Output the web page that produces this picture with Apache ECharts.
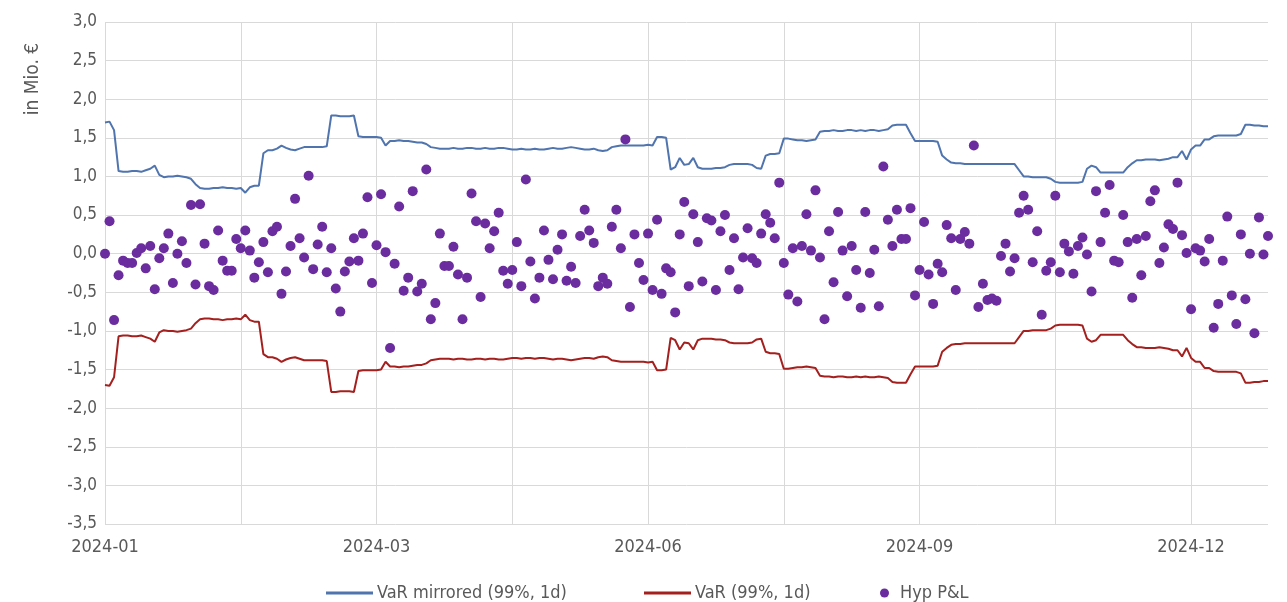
<!DOCTYPE html>
<html><head><meta charset="utf-8">
<script src="https://cdn.jsdelivr.net/npm/echarts@6/dist/echarts.min.js"></script>
<style>html,body{margin:0;padding:0;background:#fff}#c{width:1287px;height:602px}</style>
</head><body><div id="c"></div>
<script>
// VaR (99%, 1d) in Mio. € — one value per business day of 2024
const varValues = [
-1.70,-1.71,-1.60,-1.07,-1.06,-1.06,-1.07,-1.07,-1.06,-1.08,
-1.10,-1.14,-1.02,-0.99,-1.00,-1.00,-1.01,-1.00,-0.99,-0.97,
-0.90,-0.85,-0.84,-0.84,-0.85,-0.85,-0.86,-0.85,-0.85,-0.84,
-0.85,-0.79,-0.86,-0.88,-0.88,-1.30,-1.34,-1.34,-1.36,-1.40,
-1.37,-1.35,-1.34,-1.36,-1.38,-1.38,-1.38,-1.38,-1.38,-1.39,
-1.79,-1.79,-1.78,-1.78,-1.78,-1.79,-1.52,-1.51,-1.51,-1.51,
-1.51,-1.50,-1.40,-1.46,-1.46,-1.47,-1.46,-1.46,-1.45,-1.44,
-1.44,-1.42,-1.38,-1.37,-1.36,-1.36,-1.36,-1.37,-1.36,-1.36,
-1.37,-1.37,-1.36,-1.36,-1.37,-1.36,-1.36,-1.37,-1.37,-1.36,
-1.35,-1.35,-1.36,-1.35,-1.35,-1.36,-1.35,-1.35,-1.36,-1.37,
-1.36,-1.36,-1.37,-1.38,-1.37,-1.36,-1.35,-1.35,-1.36,-1.34,
-1.33,-1.34,-1.38,-1.39,-1.40,-1.40,-1.40,-1.40,-1.40,-1.40,
-1.41,-1.40,-1.51,-1.51,-1.50,-1.09,-1.12,-1.24,-1.15,-1.16,
-1.24,-1.12,-1.10,-1.10,-1.10,-1.11,-1.11,-1.12,-1.15,-1.16,
-1.16,-1.16,-1.16,-1.15,-1.11,-1.10,-1.27,-1.29,-1.29,-1.30,
-1.49,-1.49,-1.48,-1.47,-1.47,-1.46,-1.47,-1.48,-1.58,-1.59,
-1.59,-1.60,-1.59,-1.59,-1.60,-1.60,-1.59,-1.60,-1.59,-1.60,
-1.60,-1.59,-1.60,-1.61,-1.66,-1.67,-1.67,-1.67,-1.56,-1.46,
-1.46,-1.46,-1.46,-1.46,-1.45,-1.27,-1.22,-1.18,-1.17,-1.17,
-1.16,-1.16,-1.16,-1.16,-1.16,-1.16,-1.16,-1.16,-1.16,-1.16,
-1.16,-1.16,-1.08,-1.00,-1.00,-0.99,-0.99,-0.99,-0.99,-0.97,
-0.93,-0.92,-0.92,-0.92,-0.92,-0.92,-0.93,-1.10,-1.14,-1.12,
-1.05,-1.05,-1.05,-1.05,-1.05,-1.05,-1.12,-1.17,-1.21,-1.21,
-1.22,-1.22,-1.22,-1.21,-1.22,-1.23,-1.25,-1.25,-1.33,-1.22,
-1.35,-1.40,-1.40,-1.48,-1.48,-1.52,-1.53,-1.53,-1.53,-1.53,
-1.53,-1.55,-1.67,-1.67,-1.66,-1.66,-1.65,-1.65
];
// VaR mirrored = VaR with the sign flipped
const varMirrored = varValues.map(v => -v);

// Hypothetical P&L in Mio. €
const pnlValues = [
0.00,0.42,-0.86,-0.28,-0.09,-0.12,-0.12,0.01,0.07,-0.19,
0.10,-0.46,-0.06,0.07,0.26,-0.38,0.00,0.16,-0.12,0.63,
-0.40,0.64,0.13,-0.42,-0.47,0.30,-0.09,-0.22,-0.22,0.19,
0.07,0.30,0.04,-0.31,-0.11,0.15,-0.24,0.29,0.35,-0.52,
-0.23,0.10,0.71,0.20,-0.05,1.01,-0.20,0.12,0.35,-0.24,
0.07,-0.45,-0.75,-0.23,-0.10,0.20,-0.09,0.26,0.73,-0.38,
0.11,0.77,0.02,-1.22,-0.13,0.61,-0.48,-0.31,0.81,-0.49,
-0.39,1.09,-0.85,-0.64,0.26,-0.16,-0.16,0.09,-0.27,-0.85,
-0.31,0.78,0.42,-0.56,0.39,0.07,0.29,0.53,-0.22,-0.39,
-0.21,0.15,-0.42,0.96,-0.10,-0.58,-0.31,0.30,-0.08,-0.33,
0.05,0.25,-0.35,-0.17,-0.38,0.23,0.57,0.30,0.14,-0.42,
-0.31,-0.39,0.35,0.57,0.07,1.48,-0.69,0.25,-0.12,-0.34,
0.26,-0.47,0.44,-0.52,-0.19,-0.24,-0.76,0.25,0.67,-0.42,
0.51,0.15,-0.36,0.46,0.43,-0.47,0.29,0.50,-0.21,0.20,
-0.46,-0.05,0.33,-0.06,-0.12,0.26,0.51,0.40,0.20,0.92,
-0.12,-0.53,0.07,-0.62,0.10,0.51,0.04,0.82,-0.05,-0.85,
0.29,-0.37,0.54,0.04,-0.55,0.10,-0.21,-0.70,0.54,-0.25,
0.05,-0.68,1.13,0.44,0.10,0.57,0.19,0.19,0.59,-0.54,
-0.21,0.41,-0.27,-0.65,-0.13,-0.24,0.37,0.20,-0.47,0.19,
0.28,0.13,1.40,-0.69,-0.39,-0.60,-0.58,-0.61,-0.03,0.13,
-0.23,-0.06,0.53,0.75,0.57,-0.11,0.29,-0.79,-0.22,-0.11,
0.75,-0.24,0.13,0.03,-0.26,0.10,0.21,-0.01,-0.49,0.81,
0.15,0.53,0.89,-0.09,-0.11,0.50,0.15,-0.57,0.19,-0.28,
0.23,0.68,0.82,-0.12,0.08,0.38,0.32,0.92,0.24,0.01,
-0.72,0.07,0.04,-0.10,0.19,-0.96,-0.65,-0.09,0.48,-0.54,
-0.91,0.25,-0.59,0.00,-1.03,0.47,-0.01,0.23
];

// Categories: business days of 2024 starting 2024-01-02
const dates = [];
(function(){
  const d = new Date(Date.UTC(2024, 0, 2));
  while (dates.length < pnlValues.length) {
    const wd = d.getUTCDay();
    if (wd !== 0 && wd !== 6) dates.push(d.toISOString().slice(0, 10));
    d.setUTCDate(d.getUTCDate() + 1);
  }
})();

const seriesNames = ['VaR mirrored (99%, 1d)', 'VaR (99%, 1d)', 'Hyp P&L'];
const yAxisTitle = 'in Mio. €';

const FONT = "'DejaVu Sans Condensed', 'Liberation Sans Narrow', 'DejaVu Sans', sans-serif";
const TXT = '#595959';
const GRID = '#d9d9d9';

const legendText = {color: TXT, fontSize: 18, fontFamily: FONT};

const chart = echarts.init(document.getElementById('c'), null, {renderer: 'canvas'});
chart.setOption({
  animation: false,
  backgroundColor: '#fff',
  textStyle: {fontFamily: FONT},
  grid: {left: 105, right: 19, top: 22, bottom: 78, containLabel: false},
  xAxis: {
    type: 'category',
    data: dates,
    boundaryGap: false,
    axisLine: {show: true, lineStyle: {color: GRID, width: 1}},
    axisTick: {show: false},
    axisLabel: {
      interval: 59, color: TXT, fontSize: 18, fontFamily: FONT, margin: 14,
      formatter: v => v.slice(0, 7)
    },
    splitLine: {show: true, interval: 29, lineStyle: {color: GRID, width: 1}}
  },
  yAxis: {
    type: 'value',
    min: -3.5, max: 3.0, interval: 0.5,
    axisLine: {show: false},
    axisTick: {show: false},
    axisLabel: {
      color: TXT, fontSize: 17, fontFamily: FONT, margin: 8,
      formatter: v => v.toFixed(1).replace('.', ',')
    },
    splitLine: {show: true, lineStyle: {color: GRID, width: 1}}
  },
  graphic: [{
    type: 'text',
    x: 33, y: 79,
    rotation: Math.PI / 2,
    style: {
      text: yAxisTitle, fill: TXT, fontSize: 19, fontFamily: FONT,
      align: 'center', verticalAlign: 'middle'
    }
  }],
  legend: [{
    data: [{name: seriesNames[0], icon: 'rect'}],
    left: 321, top: 579,
    itemWidth: 47, itemHeight: 3,
    textStyle: Object.assign({padding: [0, 0, 0, -1]}, legendText)
  }, {
    data: [{name: seriesNames[1], icon: 'rect'}],
    left: 639, top: 579,
    itemWidth: 47, itemHeight: 3,
    textStyle: Object.assign({padding: [0, 0, 0, -1]}, legendText)
  }, {
    data: [{name: seriesNames[2], icon: 'circle'}],
    left: 875, top: 579,
    itemWidth: 9, itemHeight: 9,
    textStyle: Object.assign({padding: [0, 0, 0, 6]}, legendText)
  }],
  series: [{
    name: seriesNames[0],
    type: 'line',
    data: varMirrored,
    symbol: 'none',
    lineStyle: {color: '#4F74AE', width: 2},
    itemStyle: {color: '#4F74AE'},
    z: 2
  }, {
    name: seriesNames[1],
    type: 'line',
    data: varValues,
    symbol: 'none',
    lineStyle: {color: '#A3201E', width: 2},
    itemStyle: {color: '#A3201E'},
    z: 2
  }, {
    name: seriesNames[2],
    type: 'scatter',
    data: pnlValues,
    symbol: 'circle',
    symbolSize: 10,
    itemStyle: {color: '#6A2C9E', opacity: 1},
    z: 3
  }]
});
</script>
</body></html>
